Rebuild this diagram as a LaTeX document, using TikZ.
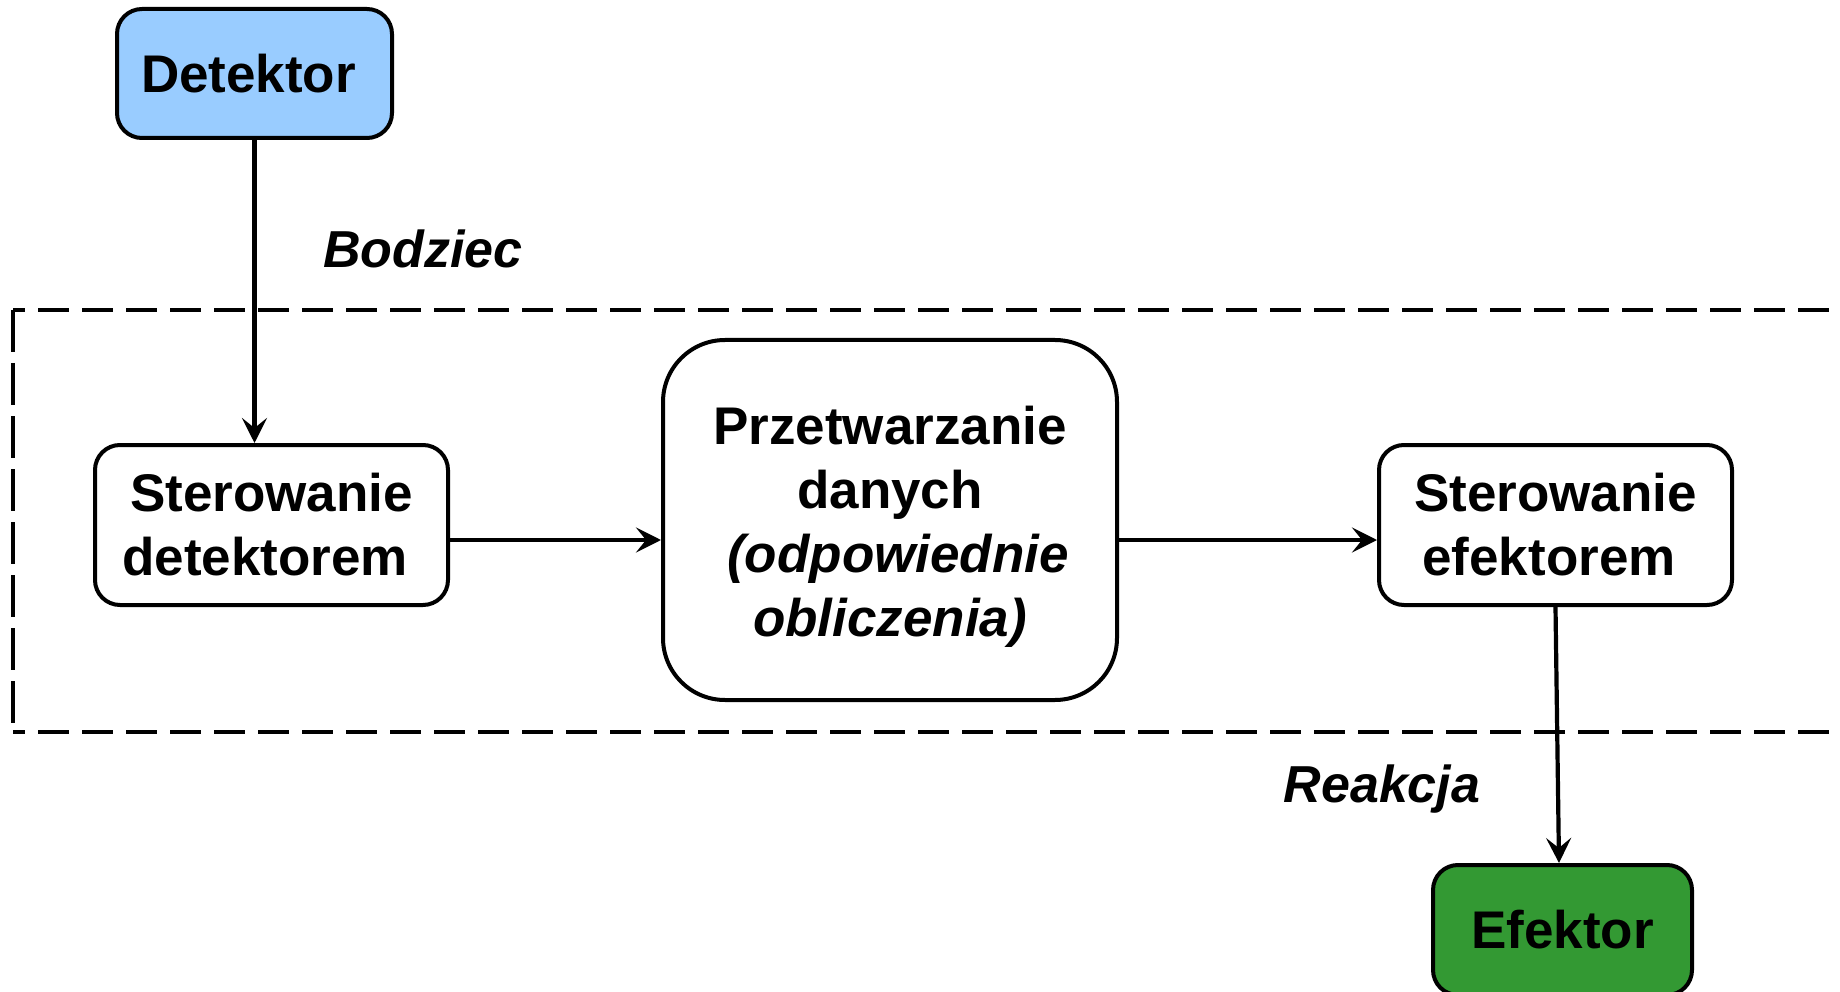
\documentclass[tikz,border=0pt]{standalone}
\usepackage{fontspec}
\setmainfont{Liberation Sans}
\usetikzlibrary{arrows.meta,calc}

\definecolor{detblue}{HTML}{99CCFF}
\definecolor{effgreen}{HTML}{339933}

\tikzset{
  box/.style={draw=black, line width=4pt, rounded corners=25pt,
    inner sep=0pt, align=center,
    font=\fontsize{53}{64}\selectfont\bfseries},
  arr/.style={draw=black, line width=4.2pt,
    -{Stealth[length=25pt,width=25pt,inset=10pt]}},
  lbl/.style={inner sep=0pt, font=\fontsize{52}{62}\selectfont\bfseries\itshape},
  frame/.style={draw=black, line width=4pt},
}

\begin{document}
\begin{tikzpicture}[x=1pt,y=-1pt]
\useasboundingbox (0,0) rectangle (1840,992);
\clip (0,0) rectangle (1840,992);

% dashed system boundary (open on the right)
\draw[frame, dash pattern=on 31pt off 13pt, dash phase=19pt] (13,310) -- (1860,310);
\draw[frame, dash pattern=on 42pt off 11pt] (13,310) -- (13,732);
\draw[frame, dash pattern=on 31pt off 13pt, dash phase=19pt] (13,732) -- (1860,732);

% blocks
\node[box, fill=detblue, minimum width=275pt, minimum height=129pt]
  (det) at (254.5,73.5) {\raisebox{-2pt}{Detektor}\hspace*{12pt}};
\node[box, minimum width=353pt, minimum height=160pt]
  (ster1) at (271.5,525) {\raisebox{-2pt}{Sterowanie}\\\raisebox{-2pt}{detektorem}\hspace*{13pt}};
\node[box, rounded corners=62pt, minimum width=454pt, minimum height=360pt]
  (proc) at (890,520) {\rule{0pt}{54pt}Przetwarzanie\\danych\\\hspace*{16pt}{\itshape (odpowiednie}\\{\itshape obliczenia)}\hspace*{4pt}\\[-50pt]};
\node[box, minimum width=353pt, minimum height=160pt]
  (ster2) at (1555.5,525) {\raisebox{-2pt}{Sterowanie}\\\raisebox{-2pt}{efektorem}\hspace*{13pt}};
\node[box, fill=effgreen, minimum width=259pt, minimum height=130pt]
  (eff) at (1562.5,930) {Efektor};

% connectors
\coordinate (flow) at (0,540);
\draw[arr] (det.south) -- (det.south |- ster1.north);
\draw[arr] (ster1.east |- flow) -- (proc.west |- flow);
\draw[arr] (proc.east |- flow) -- (ster2.west |- flow);
\draw[arr] (ster2.south) -- ($(eff.north)+(-3.5,0)$);

% signal labels
\node[lbl] (bodziec) at (423,249) {Bodziec};
\node[lbl] (reakcja) at (1382,789) {Reakcja};
\end{tikzpicture}
\end{document}
